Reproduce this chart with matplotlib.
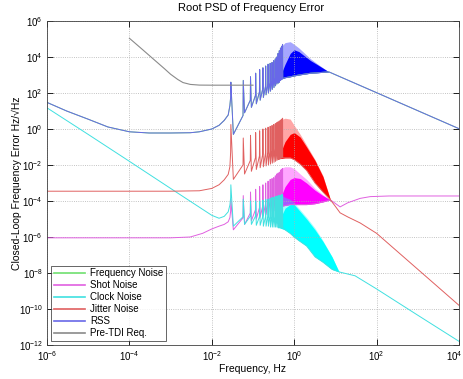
import numpy as np
import matplotlib
matplotlib.use("Agg")
import matplotlib.pyplot as plt
import matplotlib.transforms as mtransforms

plt.rcParams["font.family"] = ["Liberation Sans", "DejaVu Sans"]
plt.rcParams["mathtext.fontset"] = "custom"
plt.rcParams["mathtext.rm"] = "Liberation Sans"
plt.rcParams["mathtext.it"] = "Liberation Sans:italic"

# loop resonances, one every 0.029 Hz
comb_spacing = 0.029
comb_f = [0.029, 0.058, 0.087, 0.116, 0.145, 0.174, 0.203, 0.232, 0.261,
          0.290, 0.319, 0.348, 0.377, 0.406, 0.435, 0.464, 0.493, 0.522]

# ---- RSS (frequency noise sits underneath it) ----
rss_low_f = [1e-6, 3e-6, 1e-5, 3e-5, 1e-4, 3e-4, 1e-3, 3e-3, 5e-3, 1e-2, 1.5e-2, 2e-2, 2.5e-2, 2.75e-2]
rss_low_v = [30, 10, 3.5, 1.3, 0.7, 0.6, 0.6, 0.62, 0.7, 1.0, 1.6, 3.0, 6.0, 20]
rss_peak_exp = [2.6, 2.7, 2.9, 3.1, 3.3, 3.4, 3.5, 3.6, 3.65,
                3.7, 3.8, 3.9, 4.0, 4.2, 4.35, 4.5, 4.6, 4.7]
rss_trough_exp = [-0.3, 0.9, 1.2, 1.4, 1.6, 1.75, 1.9, 2.0, 2.1,
                  2.2, 2.3, 2.4, 2.5, 2.55, 2.6, 2.7, 2.75, 2.8]
rss_band_f = [0.45, 0.6, 0.8, 1.0, 1.3, 1.8, 2.5, 3.5, 5.0, 7.0]
rss_band_hi = [4.5, 4.8, 4.85, 4.7, 4.5, 4.2, 3.9, 3.65, 3.4, 3.17]
rss_band_core = [2.9, 3.6, 4.2, 4.4, 4.3, 4.05, 3.8, 3.6, 3.38, 3.17]
rss_band_lo = [2.75, 2.85, 2.9, 2.95, 3.0, 3.05, 3.1, 3.12, 3.15, 3.17]
rss_tail_f = [7.0, 100, 1e3, 1e4]
rss_tail_v = [1480, 104, 10.4, 1.04]

# ---- jitter noise ----
jit_low_f = [1e-6, 1e-3, 5e-3, 1e-2, 1.5e-2, 2e-2, 2.5e-2, 2.75e-2]
jit_low_v = [3.5e-4, 3.5e-4, 3.7e-4, 5e-4, 8e-4, 1.5e-3, 3e-3, 8e-3]
jit_peak_exp = [0.25, -0.5, -0.35, -0.2, -0.1, 0.0, 0.05, 0.1, 0.15,
                0.2, 0.25, 0.3, 0.35, 0.4, 0.45, 0.5, 0.55, 0.6]
jit_trough_exp = [-2.8, -2.5, -2.35, -2.25, -2.15, -2.1, -2.05, -2.0, -1.95,
                  -1.9, -1.85, -1.8, -1.75, -1.7, -1.68, -1.65, -1.62, -1.6]
jit_band_f = [0.45, 0.6, 0.8, 1.0, 1.4, 2.0, 3.2, 5.0, 7.6]
jit_band_hi = [0.5, 0.6, 0.55, 0.2, -0.3, -0.9, -1.7, -2.6, -3.94]
jit_band_core = [-1.4, -0.7, -0.3, -0.2, -0.45, -1.0, -1.75, -2.65, -3.94]
jit_band_lo = [-1.65, -1.6, -1.6, -1.7, -1.95, -2.3, -3.0, -3.5, -3.94]
jit_tail_f = [7.6, 10, 13, 20, 40, 100, 1e3, 1e4]
jit_tail_v = [1.15e-4, 5e-5, 2.2e-5, 1.3e-5, 6e-6, 1.6e-6, 1.6e-8, 1.6e-10]

# ---- shot noise ----
shot_low_f = [1e-6, 1e-3, 3e-3, 6e-3, 1e-2, 1.5e-2, 2e-2, 2.5e-2, 2.75e-2]
shot_low_v = [9e-7, 9e-7, 1e-6, 1.6e-6, 2.8e-6, 4e-6, 5e-6, 7e-6, 1.2e-5]
shot_peak_exp = [-3.9, -3.7, -3.5, -3.35, -3.2, -3.1, -3.0, -2.9, -2.8,
                 -2.75, -2.7, -2.6, -2.5, -2.45, -2.4, -2.3, -2.25, -2.2]
shot_trough_exp = [-5.6, -5.3, -5.1, -5.0, -4.9, -4.8, -4.75, -4.7, -4.65,
                   -4.6, -4.55, -4.5, -4.45, -4.4, -4.38, -4.35, -4.32, -4.3]
shot_band_f = [0.45, 0.6, 0.8, 1.0, 1.4, 2.0, 3.2, 5.0, 7.6]
shot_band_hi = [-2.2, -2.1, -2.1, -2.2, -2.5, -2.8, -3.3, -3.65, -3.94]
shot_band_core = [-3.9, -3.2, -2.8, -2.7, -2.75, -3.0, -3.4, -3.7, -3.94]
shot_band_lo = [-4.3, -4.25, -4.2, -4.2, -4.2, -4.2, -4.15, -4.05, -3.94]
shot_tail_f = [7.6, 13, 20, 40, 70, 200, 1e3, 1e4]
shot_tail_v = [1.15e-4, 4.7e-5, 8e-5, 1.4e-4, 1.75e-4, 1.9e-4, 1.9e-4, 1.9e-4]

# ---- clock noise ----
clk_low_f = [1e-6, 1e-5, 1e-4, 1e-3, 5e-3, 1e-2, 1.5e-2, 2e-2, 2.5e-2, 2.75e-2]
clk_low_v = [15, 0.5, 1.6e-2, 5e-4, 4.5e-5, 1.6e-5, 1.1e-5, 1.4e-5, 2.5e-5, 6e-5]
clk_peak_exp = [-3.1, -3.9, -4.0, -4.0, -4.0, -3.95, -3.9, -3.9, -3.85,
                -3.8, -3.8, -3.75, -3.75, -3.7, -3.7, -3.7, -3.65, -3.65]
clk_trough_exp = [-5.4, -5.3, -5.3, -5.35, -5.35, -5.4, -5.4, -5.4, -5.45,
                  -5.45, -5.45, -5.45, -5.45, -5.5, -5.5, -5.5, -5.5, -5.5]
clk_band_f = [0.45, 0.6, 0.8, 1.0, 1.3, 2.0, 3.2, 5.0, 8.3, 12.3]
clk_band_hi = [-3.6, -3.8, -3.9, -4.1, -4.4, -4.9, -5.5, -6.2, -7.1, -7.94]
clk_band_core = [-5.0, -4.4, -4.2, -4.2, -4.5, -5.0, -5.6, -6.25, -7.1, -7.94]
clk_band_lo = [-5.5, -5.6, -5.8, -6.0, -6.2, -6.5, -7.1, -7.4, -7.8, -7.94]
clk_tail_f = [12.3, 30, 100, 1e3, 1e4]
clk_tail_v = [1.15e-8, 7e-9, 1.3e-9, 4.5e-11, 1.6e-12]

# ---- pre-TDI requirement ----
req_f = [1e-4, 2e-4, 4e-4, 7e-4, 1e-3, 1.5e-3, 2e-3, 3e-3, 5e-3, 1e-2, 3e-2, 0.1]
req_v = [1.1e5, 2.8e4, 7e3, 2.3e3, 1.1e3, 560, 380, 300, 275, 272, 272, 272]


def trace(low_f, low_v, peak_exp, trough_exp, band_f, band_lo, tail_f, tail_v):
    f = list(low_f)
    v = list(low_v)
    for fn, pe, te in zip(comb_f, peak_exp, trough_exp):
        prev = np.log10(v[-1])
        f += [fn * 0.988, fn, fn + 0.15 * comb_spacing]
        v += [10 ** (prev + 0.35 * (pe - prev)), 10 ** pe, 10 ** te]
    for bf, bl in zip(band_f, band_lo):
        if bf > f[-1]:
            f.append(bf)
            v.append(10 ** bl)
    for tf, tv in zip(tail_f, tail_v):
        if tf > f[-1]:
            f.append(tf)
            v.append(tv)
    return np.array(f), np.array(v)


def band(ax, bf, lo, core, hi, color):
    bf = np.array(bf)
    ax.fill_between(bf, 10 ** np.array(lo), 10 ** np.array(hi),
                    color=color, alpha=0.35, lw=0)
    ax.fill_between(bf, 10 ** np.array(lo), 10 ** np.array(core),
                    color=color, lw=0)


fig = plt.figure(figsize=(4.64, 3.79), dpi=100)
ax = fig.add_axes([47 / 464, 1 - 345 / 379, 412 / 464, 324 / 379])

lw = 0.7
rss = trace(rss_low_f, rss_low_v, rss_peak_exp, rss_trough_exp,
            rss_band_f, rss_band_lo, rss_tail_f, rss_tail_v)
shot = trace(shot_low_f, shot_low_v, shot_peak_exp, shot_trough_exp,
             shot_band_f, shot_band_lo, shot_tail_f, shot_tail_v)
clk = trace(clk_low_f, clk_low_v, clk_peak_exp, clk_trough_exp,
            clk_band_f, clk_band_lo, clk_tail_f, clk_tail_v)
jit = trace(jit_low_f, jit_low_v, jit_peak_exp, jit_trough_exp,
            jit_band_f, jit_band_lo, jit_tail_f, jit_tail_v)

c_freq, c_shot, c_clk, c_jit, c_rss, c_req = (
    "#70e070", "#e060e0", "#40e0e0", "#e06060", "#6868e8", "#8a8a8a")

ax.loglog(*rss, color=c_freq, lw=lw, label="Frequency Noise")
ax.loglog(*shot, color=c_shot, lw=lw, label="Shot Noise")
band(ax, shot_band_f, shot_band_lo, shot_band_core, shot_band_hi, "#ff00ff")
ax.loglog(*clk, color=c_clk, lw=lw, label="Clock Noise")
band(ax, clk_band_f, clk_band_lo, clk_band_core, clk_band_hi, "#00ffff")
ax.loglog(*jit, color=c_jit, lw=lw, label="Jitter Noise")
band(ax, jit_band_f, jit_band_lo, jit_band_core, jit_band_hi, "#ff0000")
ax.loglog(*rss, color=c_rss, lw=lw, label="RSS")
band(ax, rss_band_f, rss_band_lo, rss_band_core, rss_band_hi, "#0000ff")
ax.loglog(req_f, req_v, color=c_req, lw=0.8, label="Pre-TDI Req.")

ax.set_xlim(1e-6, 1e4)
ax.set_ylim(1e-12, 1e6)
ax.set_xticks([1e-6, 1e-4, 1e-2, 1e0, 1e2, 1e4])
ax.set_yticks([1e-12, 1e-10, 1e-8, 1e-6, 1e-4, 1e-2, 1e0, 1e2, 1e4, 1e6])
ax.minorticks_off()
ax.tick_params(direction="in", length=4, width=0.6, labelsize=7,
               top=True, right=True, pad=3)
ax.grid(True, linestyle=":", color="#b0b0b0", lw=0.6)
for s in ax.spines.values():
    s.set_linewidth(0.6)
    s.set_color("#404040")

# keep the last x tick label inside the figure edge
last = ax.get_xticklabels()[-1]
last.set_transform(last.get_transform() +
                   mtransforms.ScaledTranslation(-5 / 100, 0, fig.dpi_scale_trans))

ax.set_xlabel("Frequency, Hz", fontsize=7.5, labelpad=1)
ax.set_ylabel("Closed-Loop Frequency Error Hz/\u221aHz", fontsize=7.5)
ax.yaxis.set_label_coords(-0.06, 0.5)
fig.text(251 / 464, 1 - 11 / 379, "Root PSD of Frequency Error",
         ha="center", va="baseline", fontsize=8)

leg = ax.legend(loc="lower left", fontsize=7, frameon=True, fancybox=False,
                borderaxespad=0.4, handlelength=3.2, labelspacing=0.2,
                borderpad=0.3, handletextpad=0.5)
leg.get_frame().set_edgecolor("#202020")
leg.get_frame().set_linewidth(0.6)
for h in leg.get_lines():
    h.set_linewidth(1.2)

fig.savefig("out.png", dpi=100)
